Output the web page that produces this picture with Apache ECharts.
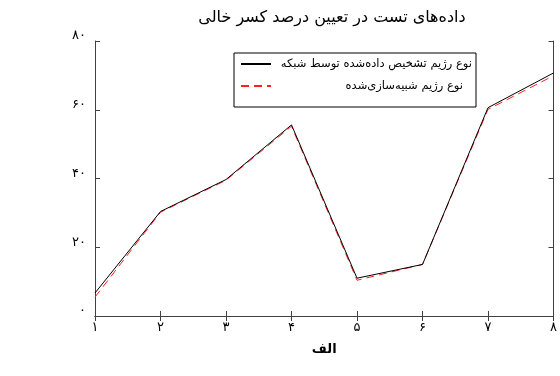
<!DOCTYPE html>
<html>
<head>
<meta charset="utf-8">
<script src="https://cdn.jsdelivr.net/npm/echarts@6/dist/echarts.min.js"></script>
<style>
  html, body { margin: 0; padding: 0; background: #fff; }
  #chart { width: 560px; height: 376px; }
</style>
</head>
<body>
<div id="chart"></div>
<script>
// Test samples: detected vs simulated regime type
const xValues = [1, 2, 3, 4, 5, 6, 7, 8];
const networkDetected = [6.7, 30.4, 39.7, 55.6, 11.0, 15.0, 60.6, 70.7];
const simulated = [5.5, 30.2, 39.5, 55.2, 10.4, 15.0, 60.1, 69.9];
const yTicks = [0, 20, 40, 60, 80];

const titleText = 'داده‌های تست در تعیین درصد کسر خالی';
const xName = 'الف';
const nameDetected = 'نوع رژیم تشخیص داده‌شده توسط شبکه';
const nameSimulated = 'نوع رژیم شبیه‌سازی‌شده';

const FONT = 'DejaVu Sans';
const AXIS_COLOR = '#404040';

// Persian (extended Arabic-Indic) digits
const faDigits = '۰۱۲۳۴۵۶۷۸۹';
function toFa(n) {
  return String(n).replace(/[0-9]/g, d => faDigits[+d]);
}

const pairs = (ys) => xValues.map((x, i) => [x, ys[i]]);

const chart = echarts.init(document.getElementById('chart'), null, { renderer: 'canvas' });

const baseX = { type: 'value', min: 1, max: 8, interval: 1 };
const baseY = { type: 'value', min: yTicks[0], max: yTicks[yTicks.length - 1], interval: 20 };

chart.setOption({
  animation: false,
  backgroundColor: '#fff',
  title: {
    text: titleText,
    left: 327,
    textAlign: 'center',
    top: 5,
    textStyle: { fontFamily: FONT, fontSize: 16, fontWeight: 'normal', color: '#000' }
  },
  grid: {
    left: 95, right: 4, top: 41, bottom: 60,
    show: false
  },
  legend: {
    data: [nameDetected, nameSimulated],
    orient: 'vertical',
    left: 234,
    top: 53,
    padding: [5, 4, 15, 6],
    itemGap: 10,
    itemWidth: 30,
    itemHeight: 14,
    backgroundColor: '#fff',
    borderColor: '#000',
    borderWidth: 1,
    borderRadius: 0,
    itemStyle: { opacity: 0 },
    formatter: (name) => name === nameDetected ? '{a|' + name + '}' : '{b|' + name + '}',
    textStyle: {
      width: 196,
      fontFamily: FONT,
      fontSize: 11.5,
      color: '#000',
      rich: {
        a: { align: 'right', fontFamily: FONT, fontSize: 11.5, color: '#000' },
        b: { align: 'right', fontFamily: FONT, fontSize: 11.5, color: '#000', padding: [0, 9, 0, 0] }
      }
    }
  },
  xAxis: [
    Object.assign({}, baseX, {
      position: 'bottom',
      name: xName,
      nameLocation: 'middle',
      nameGap: 27,
      nameTextStyle: { fontFamily: FONT, fontSize: 13, fontWeight: 'bold', color: '#000' },
      axisLine: { show: true, lineStyle: { color: AXIS_COLOR, width: 1 } },
      axisTick: { show: true, inside: true, length: 5, lineStyle: { color: AXIS_COLOR } },
      axisLabel: { margin: 5, formatter: v => toFa(v), fontFamily: FONT, fontSize: 13, color: '#000' },
      splitLine: { show: false }
    }),
    Object.assign({}, baseX, {
      position: 'top',
      axisLine: { show: true, lineStyle: { color: AXIS_COLOR, width: 1 } },
      axisTick: { show: true, inside: true, length: 5, lineStyle: { color: AXIS_COLOR } },
      axisLabel: { show: false },
      splitLine: { show: false }
    })
  ],
  yAxis: [
    Object.assign({}, baseY, {
      position: 'left',
      axisLine: { show: true, lineStyle: { color: AXIS_COLOR, width: 1 } },
      axisTick: { show: true, inside: true, length: 5, lineStyle: { color: AXIS_COLOR } },
      axisLabel: {
        margin: 9, formatter: v => toFa(v), fontFamily: FONT, fontSize: 13, color: '#000',
        verticalAlign: 'bottom', lineHeight: 10
      },
      splitLine: { show: false }
    }),
    Object.assign({}, baseY, {
      position: 'right',
      axisLine: { show: true, lineStyle: { color: AXIS_COLOR, width: 1 } },
      axisTick: { show: true, inside: true, length: 5, lineStyle: { color: AXIS_COLOR } },
      axisLabel: { show: false },
      splitLine: { show: false }
    })
  ],
  series: [
    {
      name: nameSimulated,
      type: 'line',
      data: pairs(simulated),
      symbol: 'none',
      color: '#ff2020',
      lineStyle: { color: '#ff2020', width: 1, type: [8, 5] },
      z: 2
    },
    {
      name: nameDetected,
      type: 'line',
      data: pairs(networkDetected),
      symbol: 'none',
      color: '#000',
      lineStyle: { color: '#000', width: 1, type: 'solid' },
      z: 3
    }
  ]
});
</script>
</body>
</html>
